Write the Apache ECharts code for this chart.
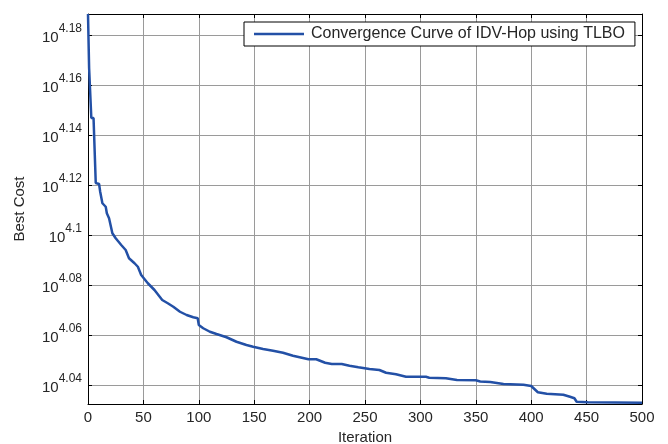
<!DOCTYPE html>
<html>
<head>
<meta charset="utf-8">
<script src="https://cdn.jsdelivr.net/npm/echarts@6/dist/echarts.min.js"></script>
<style>html,body{margin:0;padding:0;background:#fff}#c{width:668px;height:444px}</style>
</head>
<body>
<div id="c"></div>
<script>
const iterations = [0,1,2,3,5,7,10,11,13,16,17,19,21,22,25,30,34,37,42,45,48,54,60,67,72,77,83,89,95,99,100,104,110,116,125,134,143,149,158,167,176,185,191,199,206,214,220,229,236,244,254,263,269,278,287,305,308,323,333,350,354,363,375,393,400,406,414,429,435,439,441,451,500];
const bestCostLog10 = [4.1884,4.1668,4.1668,4.1468,4.1468,4.1208,4.1204,4.1173,4.1127,4.1113,4.1087,4.1067,4.1027,4.1007,4.0987,4.096,4.094,4.0907,4.0887,4.0873,4.084,4.0807,4.078,4.074,4.0727,4.0713,4.0693,4.068,4.0671,4.0667,4.064,4.0627,4.0613,4.0604,4.0591,4.0573,4.056,4.0553,4.0544,4.0537,4.0529,4.0517,4.0511,4.0503,4.0503,4.0489,4.0484,4.0484,4.0477,4.0471,4.0464,4.046,4.0449,4.0443,4.0433,4.0433,4.0429,4.0427,4.042,4.0419,4.0414,4.0412,4.0404,4.0401,4.0396,4.0371,4.0365,4.0361,4.0353,4.0347,4.0333,4.0331,4.0329];
const yTickExps = [4.04,4.06,4.08,4.1,4.12,4.14,4.16,4.18];
const yTickLabels = ['4.04','4.06','4.08','4.1','4.12','4.14','4.16','4.18'];
const seriesName = 'Convergence Curve of IDV-Hop using TLBO';

const FONT = '"Liberation Sans", Arial, sans-serif';
const chart = echarts.init(document.getElementById('c'), null, {renderer: 'canvas'});
const yMin = 4.0324, yMax = 4.1884;
const axisLine = {show: true, onZero: false, lineStyle: {color: '#000', width: 1}};
const tick = {show: true, inside: true, length: 4, lineStyle: {color: '#000'}};

chart.setOption({
  animation: false,
  backgroundColor: '#fff',
  grid: {left: 88, right: 26, top: 14, bottom: 40, containLabel: false, outerBoundsMode: 'none'},
  legend: {
    data: [{name: seriesName, icon: 'rect'}],
    left: 244, top: 22,
    padding: [4, 10, 4, 10],
    itemWidth: 50, itemHeight: 2.5, itemGap: 8,
    borderColor: '#000', borderWidth: 1, backgroundColor: '#fff',
    textStyle: {fontFamily: FONT, fontSize: 16, color: '#262626', padding: [0, 0, 0, 2]}
  },
  xAxis: [{
    type: 'value', min: 0, max: 500, interval: 50, position: 'bottom',
    name: 'Iteration', nameLocation: 'middle', nameGap: 26,
    nameTextStyle: {fontFamily: FONT, fontSize: 15, color: '#262626'},
    axisLine: axisLine, axisTick: tick,
    axisLabel: {fontFamily: FONT, fontSize: 15, color: '#262626', margin: 6},
    splitLine: {show: true, lineStyle: {color: '#9a9a9a', width: 1}}
  }, {
    type: 'value', min: 0, max: 500, interval: 50, position: 'top',
    axisLine: axisLine, axisTick: tick, axisLabel: {show: false}, splitLine: {show: false}
  }],
  yAxis: [{
    type: 'value', min: yMin, max: yMax, position: 'left',
    name: 'Best Cost', nameLocation: 'middle', nameGap: 61,
    nameTextStyle: {fontFamily: FONT, fontSize: 15, color: '#262626'},
    axisLine: axisLine,
    axisTick: Object.assign({customValues: yTickExps}, tick),
    axisLabel: {
      customValues: yTickExps, margin: 6, padding: [5, 0, 0, 0],
      formatter: function (v) {
        let i = yTickExps.findIndex(t => Math.abs(t - v) < 1e-6);
        return '{b|10}{s|' + (i >= 0 ? yTickLabels[i] : v) + '}';
      },
      rich: {
        b: {fontFamily: FONT, fontSize: 15, color: '#262626', verticalAlign: 'middle', lineHeight: 30},
        s: {fontFamily: FONT, fontSize: 12, color: '#262626', verticalAlign: 'top', lineHeight: 12}
      }
    },
    splitLine: {show: true, lineStyle: {color: '#9a9a9a', width: 1}}
  }, {
    type: 'value', min: yMin, max: yMax, position: 'right',
    axisLine: axisLine,
    axisTick: Object.assign({customValues: yTickExps}, tick),
    axisLabel: {show: false, customValues: yTickExps}, splitLine: {show: false}
  }],
  series: [{
    name: seriesName, type: 'line', xAxisIndex: 0, yAxisIndex: 0,
    data: iterations.map((it, i) => [it, bestCostLog10[i]]),
    symbol: 'none', showSymbol: false,
    lineStyle: {color: '#2350a6', width: 2.5},
    itemStyle: {color: '#2350a6'},
    clip: true
  }]
});
</script>
</body>
</html>
